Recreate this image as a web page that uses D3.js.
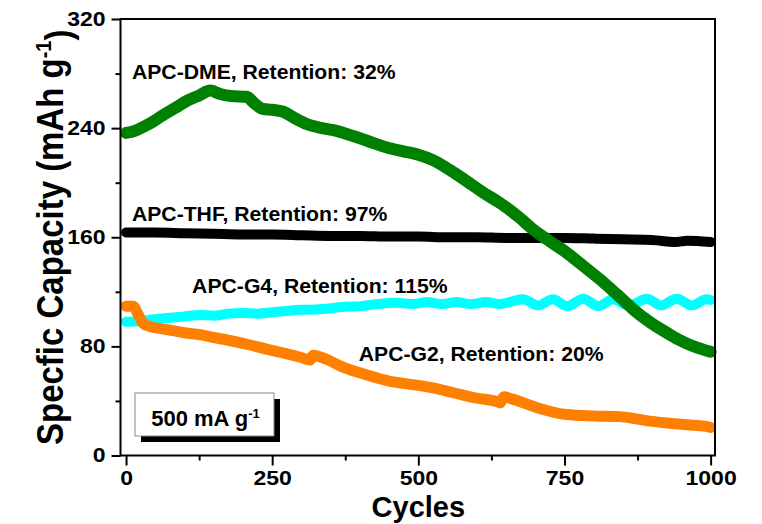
<!DOCTYPE html>
<html>
<head>
<meta charset="utf-8">
<script src="https://cdn.jsdelivr.net/npm/d3@7"></script>
<style>
  body { margin: 0; background: #fff; }
  svg { display: block; }
  text { font-family: "Liberation Sans", Arial, sans-serif; font-weight: bold; fill: #000; }
</style>
</head>
<body>
<svg id="chart" width="762" height="524"></svg>
<script>
'use strict';

// values
var cycleTicks = [0, 250, 500, 750, 1000];
var cycleMinor = [125, 375, 625, 875];
var capTicks = [0, 80, 160, 240, 320];
var capMinor = [40, 120, 200, 280];

var dmeCycles = [0, 15, 30, 47, 65, 85, 104, 125, 144, 161, 180, 206, 220, 235, 250, 269, 290, 309, 335, 360, 390, 417, 445, 474, 500, 525, 555, 583, 610, 640, 670, 697, 725, 754, 782, 811, 840, 868, 897, 925, 945, 965, 985, 1000];
var dmeCap = [236.5, 238, 241, 245, 250, 255, 260, 264, 267.5, 265, 263.5, 263, 258, 254, 253.5, 252, 247, 243, 240, 238, 234, 230, 226, 223, 220.5, 216.5, 209, 201, 193, 185, 175.5, 165.5, 157, 148.6, 139, 129, 118, 107, 97.5, 90, 85, 81, 78, 76];

var thfCycles = [0, 50, 100, 150, 200, 250, 300, 350, 400, 450, 500, 550, 600, 650, 700, 750, 800, 850, 900, 940, 960, 1000];
var thfCap = [163.5, 163.5, 163, 162.5, 162, 162, 161.5, 161, 161, 160.5, 160.5, 160, 160, 159.5, 159.5, 159.5, 159, 158.5, 158, 156.5, 157.5, 156.5];

var g4Cycles = [0, 25, 50, 75, 100, 127, 150, 175, 200, 225, 250, 275, 298, 325, 350, 375, 400, 430, 463, 490, 515, 540, 565, 590, 615, 640, 660, 679, 705, 730, 755, 782, 808, 833, 860, 891, 915, 942, 968, 993, 1000];
var g4Cap = [98, 98.5, 100, 101, 102, 103, 102.5, 104, 104.5, 104, 105, 106, 106.8, 107, 108, 109, 109.5, 111, 112, 111, 112.5, 111, 112.5, 111, 112.5, 111, 113, 114.5, 110, 114.5, 109.5, 115, 109.5, 114.5, 110, 115, 110, 115, 110, 114.5, 114];

var g2Cycles = [0, 12, 20, 29, 41, 60, 80, 100, 127, 150, 175, 212, 240, 270, 298, 315, 320, 340, 370, 412, 450, 490, 525, 560, 600, 634, 640, 646, 660, 700, 754, 800, 845, 870, 900, 925, 960, 990, 1000];
var g2Cap = [109.5, 109.5, 104, 97, 94.5, 93, 91.5, 90, 88.5, 86.5, 84.5, 81, 78, 75, 72, 70, 73.5, 71, 65, 59, 54.5, 52, 49.5, 46, 42, 39.5, 38.5, 43, 41.5, 35.5, 30, 29, 28.5, 27, 25, 23.8, 22.5, 21.5, 20.5];

var seriesNames = ['APC-THF', 'APC-G4', 'APC-G2', 'APC-DME'];
var seriesColors = ['#000000', '#00ffff', '#ff8000', '#008000'];
var retentions = ['97%', '115%', '20%', '32%'];

(function () {
  var svg = d3.select('#chart');
  var pLeft = 120.5, pRight = 715, pTop = 19, pBottom = 455.5;

  var x = d3.scaleLinear().domain([-9.5, 1007.5]).range([pLeft, pRight]);
  var y = d3.scaleLinear().domain([0, 320]).range([pBottom, pTop]);

  var line = d3.line()
    .curve(d3.curveMonotoneX)
    .x(function (d) { return x(d[0]); })
    .y(function (d) { return y(d[1]); });

  var allSeries = [
    d3.zip(thfCycles, thfCap),
    d3.zip(g4Cycles, g4Cap),
    d3.zip(g2Cycles, g2Cap),
    d3.zip(dmeCycles, dmeCap)
  ];
  var widths = [10, 10, 11, 12];

  var plot = svg.append('g');
  allSeries.forEach(function (pts, i) {
    plot.append('path')
      .datum(pts)
      .attr('fill', 'none')
      .attr('stroke', seriesColors[i])
      .attr('stroke-width', widths[i])
      .attr('stroke-linejoin', 'round')
      .attr('stroke-linecap', 'round')
      .attr('d', line);
  });

  // frame
  svg.append('rect')
    .attr('x', pLeft).attr('y', pTop)
    .attr('width', pRight - pLeft).attr('height', pBottom - pTop)
    .attr('fill', 'none').attr('stroke', '#000').attr('stroke-width', 2);

  // the original lettering is a bit wider than Arial, widen it sideways
  function stretch(sel, sx) {
    sel.each(function () {
      var t = d3.select(this);
      var tx = +t.attr('x') || 0, ty = +t.attr('y') || 0;
      t.attr('x', null).attr('y', null)
        .attr('transform', 'translate(' + tx + ',' + ty + ') scale(' + sx + ',1)');
    });
  }

  // axes
  var fmt = d3.format('d');
  var yAxis = d3.axisLeft(y).tickValues(capTicks).tickSize(9).tickPadding(6).tickFormat(fmt);
  var yMinor = d3.axisLeft(y).tickValues(capMinor).tickSize(5).tickFormat('');
  var xAxis = d3.axisBottom(x).tickValues(cycleTicks).tickSize(10).tickPadding(5).tickFormat(fmt);
  var xMinor = d3.axisBottom(x).tickValues(cycleMinor).tickSize(5).tickFormat('');

  function styleAxis(sel) {
    sel.select('.domain').remove();
    sel.selectAll('line').attr('stroke', '#000').attr('stroke-width', 2);
    sel.selectAll('text').style('font-size', '20px').attr('fill', '#000').call(stretch, 1.15);
  }

  svg.append('g').attr('transform', 'translate(' + pLeft + ',0)').call(yAxis).call(styleAxis);
  svg.append('g').attr('transform', 'translate(' + pLeft + ',0)').call(yMinor).call(styleAxis);
  svg.append('g').attr('transform', 'translate(0,' + pBottom + ')').call(xAxis).call(styleAxis);
  svg.append('g').attr('transform', 'translate(0,' + pBottom + ')').call(xMinor).call(styleAxis);

  // axis titles
  svg.append('text')
    .attr('x', x(500)).attr('y', 517)
    .attr('text-anchor', 'middle')
    .style('font-size', '29px')
    .text('Cycles');

  var yt = svg.append('text')
    .attr('transform', 'translate(63,' + (pTop + pBottom) / 2 + ') scale(1.12,1) rotate(-90)')
    .attr('text-anchor', 'middle')
    .style('font-size', '33px');
  yt.append('tspan').text('Specfic Capacity (mAh g');
  yt.append('tspan').attr('dy', '-0.55em').style('font-size', '20px').text('-1');
  yt.append('tspan').attr('dy', '0.55em').text(')');

  // series labels, anchored in data space
  var labelCycle = [10, 10, 113, 398];
  var labelCap = [276, 172, 119, 69];
  var labelOrder = [3, 0, 1, 2];
  labelOrder.forEach(function (idx, i) {
    svg.append('text')
      .attr('x', x(labelCycle[i])).attr('y', y(labelCap[i]))
      .style('font-size', '20px')
      .text(seriesNames[idx] + ', Retention: ' + retentions[idx])
      .call(stretch, 1.06);
  });

  // current density box with shadow
  var bx = 135, by = 393, bw = 139, bh = 43;
  svg.append('rect').attr('x', bx + 6).attr('y', by + 6).attr('width', bw).attr('height', bh).attr('fill', '#000');
  svg.append('rect').attr('x', bx).attr('y', by).attr('width', bw).attr('height', bh)
    .attr('fill', '#fff').attr('stroke', '#888').attr('stroke-width', 1);
  var bt = svg.append('text')
    .attr('x', bx + bw / 2 + 1).attr('y', by + 33)
    .attr('text-anchor', 'middle')
    .style('font-size', '22px');
  bt.append('tspan').text('500 mA g');
  bt.append('tspan').attr('dy', '-0.6em').style('font-size', '13px').text('-1');
})();
</script>
</body>
</html>
